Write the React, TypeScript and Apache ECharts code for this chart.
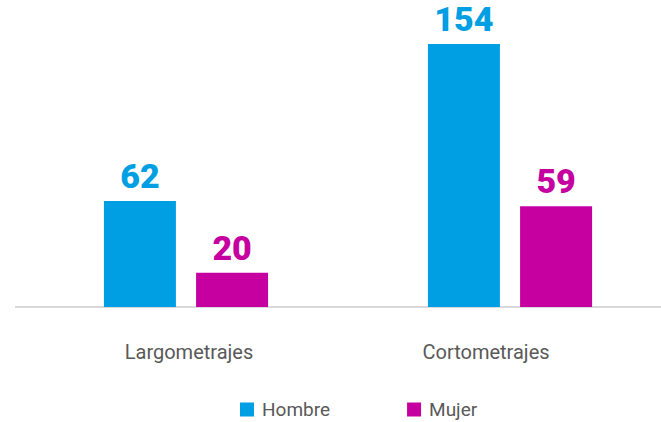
import React, { useEffect, useRef } from "react";
import * as echarts from "echarts";

const categories = ["Largometrajes", "Cortometrajes"];
const hombre = [62, 154];
const mujer = [20, 59];
const seriesNames = ["Hombre", "Mujer"];

const BLUE = "#009FE3";
const MAGENTA = "#C600A0";
const FONT = "Roboto, 'Noto Sans', sans-serif";

export default function App() {
  const ref = useRef<HTMLDivElement>(null);
  useEffect(() => {
    if (!ref.current) return;
    const chart = echarts.init(ref.current, undefined, { renderer: "svg" });
    const label = (color: string) => ({
      show: true,
      position: "top",
      distance: 10,
      color,
      fontFamily: FONT,
      fontWeight: 900,
      fontSize: 34,
      lineHeight: 30,
    });
    chart.setOption({
      animation: false,
      grid: { left: 24, right: 0, top: 20, bottom: 115, containLabel: false },
      xAxis: {
        type: "category",
        data: categories,
        axisLine: { show: true, lineStyle: { color: "#d9d9d9", width: 2 } },
        axisTick: { show: false },
        axisLabel: {
          color: "#595959",
          fontFamily: FONT,
          fontSize: 20,
          margin: 35,
          formatter: (v: string, i: number) => `{c${i}|${v}}`,
          rich: {
            c0: { fontFamily: FONT, fontSize: 20, color: "#595959", padding: [0, 0, 0, 6] },
            c1: { fontFamily: FONT, fontSize: 20, color: "#595959", padding: [0, 48, 0, 0] },
          },
        },
      },
      yAxis: {
        type: "value",
        min: 0,
        max: 168,
        show: false,
        splitLine: { show: false },
      },
      legend: {
        left: 240,
        top: 400,
        padding: 0,
        itemWidth: 14,
        itemHeight: 14,
        itemGap: 77,
        icon: "rect",
        textStyle: {
          color: "#595959",
          fontFamily: FONT,
          fontSize: 19,
          lineHeight: 16,
          padding: [0, 0, 0, 3],
        },
        data: seriesNames,
      },
      graphic: [
        {
          type: "line",
          shape: { x1: 15, y1: 307, x2: 25, y2: 307 },
          style: { stroke: "#d9d9d9", lineWidth: 2 },
        },
      ],
      series: [
        {
          name: seriesNames[0],
          type: "bar",
          data: hombre,
          barWidth: 72,
          barGap: "28%",
          itemStyle: { color: BLUE },
          label: label(BLUE),
        },
        {
          name: seriesNames[1],
          type: "bar",
          data: mujer,
          barWidth: 72,
          itemStyle: { color: MAGENTA },
          label: label(MAGENTA),
        },
      ],
    });
    return () => chart.dispose();
  }, []);
  return (
    <div style={{ width: 661, height: 422, position: "absolute", left: 0, top: 0, overflow: "hidden" }}>
      <div ref={ref} style={{ width: 672, height: 422 }} />
    </div>
  );
}
